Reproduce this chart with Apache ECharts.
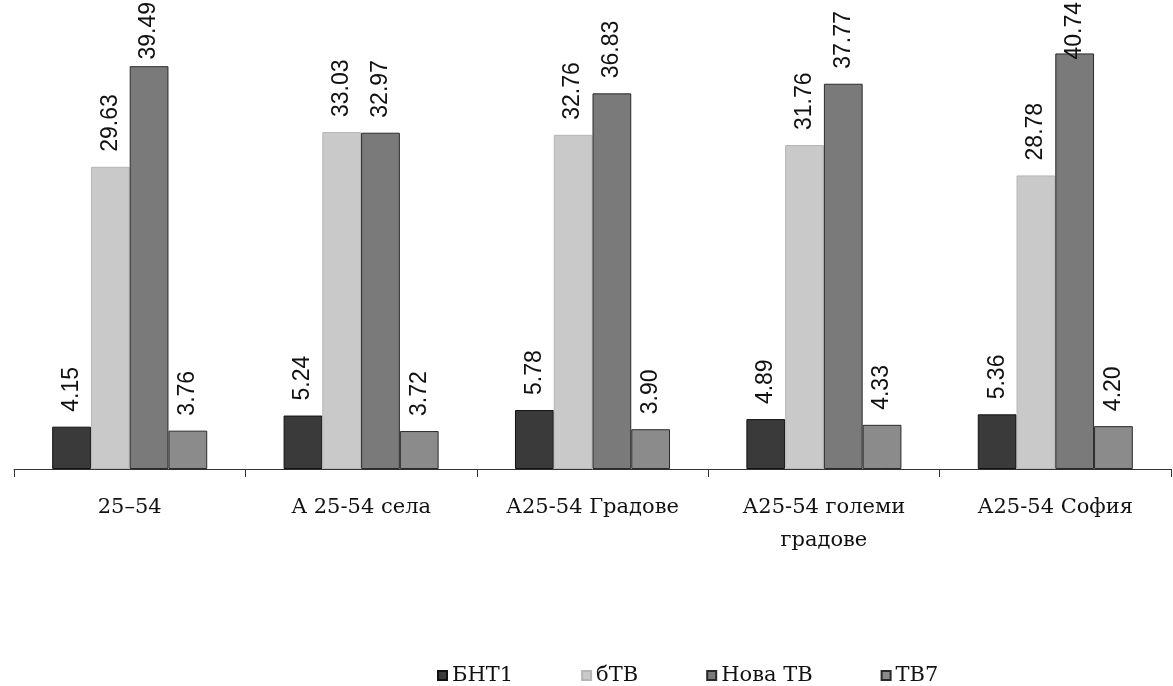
<!DOCTYPE html>
<html><head><meta charset="utf-8">
<script src="https://cdn.jsdelivr.net/npm/echarts@6/dist/echarts.min.js"></script>
<style>html,body{margin:0;padding:0;background:#fff}#c{width:1173px;height:686px}</style>
</head><body><div id="c"></div>
<script>
const categories = ['25–54', 'А 25-54 села', 'А25-54 Градове', 'А25-54 големи\nградове', 'А25-54 София'];
const seriesNames = ['БНТ1', 'бТВ', 'Нова ТВ', 'ТВ7'];
const bnt1 = [4.15, 5.24, 5.78, 4.89, 5.36];
const btv = [29.63, 33.03, 32.76, 31.76, 28.78];
const nova = [39.49, 32.97, 36.83, 37.77, 40.74];
const tv7 = [3.76, 3.72, 3.90, 4.33, 4.20];
const colors = ['#3a3a3a', '#c9c9c9', '#7a7a7a', '#8b8b8b'];
const borders = ['#111', '#b5b5b5', '#2a2a2a', '#2a2a2a'];
const allData = [bnt1, btv, nova, tv7];

const labelFont = '23px "Liberation Sans"';
const ctx = document.createElement('canvas').getContext('2d');
ctx.font = labelFont;

const chart = echarts.init(document.getElementById('c'));
function build(distFn) {
  return {
    animation: false,
    grid: { left: 14, right: 2, top: 10, bottom: 217, containLabel: false },
    legend: {
      top: 660, left: 432, itemWidth: 9, itemHeight: 9, itemGap: 68, icon: 'rect',
      textStyle: { fontFamily: 'DejaVu Serif', fontSize: 21, color: '#111' },
      data: seriesNames
    },
    xAxis: {
      type: 'category', data: categories,
      axisLine: { lineStyle: { color: '#333', width: 1 } },
      axisTick: { show: true, length: 8, lineStyle: { color: '#333' } },
      axisLabel: { fontFamily: 'DejaVu Serif', fontSize: 21, color: '#111', margin: 22, lineHeight: 33, interval: 0 }
    },
    yAxis: { type: 'value', min: 0, max: 45, show: false, splitLine: { show: false } },
    series: allData.map((d, i) => ({
      name: seriesNames[i], type: 'bar', barGap: '0%', barCategoryGap: '33%',
      data: d.map((v, j) => ({ value: v, label: { distance: distFn(v, j) } })),
      itemStyle: { color: colors[i], borderColor: borders[i], borderWidth: 1 },
      label: {
        show: true, position: 'top', rotate: 90, align: 'left', verticalAlign: 'middle',
        formatter: p => p.value.toFixed(2),
        fontFamily: 'Liberation Sans', fontSize: 23, color: '#111'
      }
    }))
  };
}
chart.setOption(build(() => 15));
// keep labels inside the canvas: shrink distance for labels that would overflow the top
chart.setOption(build((v) => {
  const top = chart.convertToPixel({ yAxisIndex: 0 }, v);
  const len = ctx.measureText(v.toFixed(2)).width;
  return Math.min(15, top - len - 2);
}));
</script></body></html>
